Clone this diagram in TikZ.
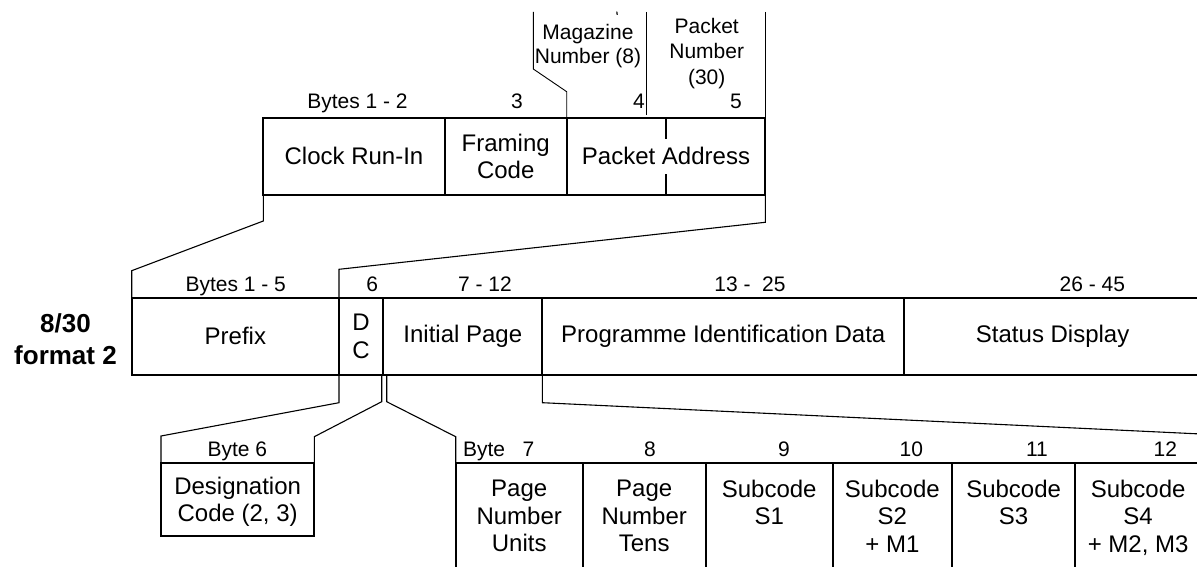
\documentclass[tikz,border=0pt]{standalone}
\usepackage{fontspec}
\setmainfont{Liberation Sans}
\usetikzlibrary{calc}
\tikzset{
  cell/.style={draw, line width=2.2pt, outer sep=0pt, inner sep=0pt, align=center, font=\fontsize{24}{27.5}\selectfont},
  lbl/.style={inner sep=0pt, outer sep=0pt, anchor=base, font=\fontsize{21}{25}\selectfont},
  mlbl/.style={inner sep=0pt, outer sep=0pt, anchor=north, align=center, font=\fontsize{21}{25}\selectfont},
  conn/.style={line width=1.1pt, line join=miter},
  sepline/.style={line width=0.9pt},
  divline/.style={line width=2.2pt},
}
\begin{document}
\begin{tikzpicture}[x=1pt,y=-1pt]
\fill[white] (0,0) rectangle (1197,567);
\useasboundingbox (0,0) rectangle (1197,567);
\clip (0,0) rectangle (1197,567);

% top row
\node[cell, minimum width=181.4pt, minimum height=77.3pt] (clock) at (354,156.35) {Clock Run-In};
\node[cell, minimum width=122pt, minimum height=77.3pt] (framing) at (505.7,156.35) {Framing\\Code};
\node[cell, minimum width=198.6pt, minimum height=77.3pt] (packet) at (666,156.35) {Packet Address};
\draw[divline] (packet.north) -- ++(0,21.3);
\draw[divline] (packet.south) -- ++(0,-21);

% top labels
\node[lbl] (l12) at (357.5,108.3) {Bytes 1 - 2};
\node[lbl] (l3) at (517,108.3) {3};
\node[lbl] (l4) at (639,108.3) {4};
\node[lbl] (l5) at (736,108.3) {5};
\node[mlbl, font=\fontsize{21}{24.3}\selectfont] (mag) at (588,24) {Magazine\\Number (8)};
\node[mlbl, font=\fontsize{21}{25.5}\selectfont] (pno) at (706.7,18) {Packet\\Number\\(30)};

\coordinate (magtop) at (533.3,12);
\coordinate (pntop) at (646.7,12);
\coordinate (pnbot) at (646.7,115);
\coordinate (pktop) at (765.3,12);
\draw[sepline] (magtop) -- ++(0,57) -- ($(packet.north west)+(0,-26)$) -- (packet.north west);
\draw[sepline] (pntop) -- (pnbot);
\draw[sepline] (pktop) -- (packet.north east);
\draw[line width=1.2pt] (616.8,11.6) -- (617.2,14.8);

% middle row
\node[inner sep=0pt, outer sep=0pt, anchor=north, align=center, font=\fontsize{26}{31.7}\selectfont\bfseries] (fmt) at (65.5,313.8) {8/30\\format 2};
\node[cell, minimum width=207.3pt, minimum height=77.3pt] (prefix) at (235.35,336.35) {Prefix};
\node[cell, minimum width=44.3pt, minimum height=77.3pt, font=\fontsize{24}{28.4}\selectfont] (dc) at (361.15,336.35) {D\\C};
\node[cell, minimum width=159pt, minimum height=77.3pt] (initial) at (462.8,336.35) {Initial Page};
\node[cell, minimum width=362pt, minimum height=77.3pt] (pid) at (723.3,336.35) {Programme Identification Data};
\node[cell, minimum width=296.7pt, minimum height=77.3pt] (status) at (1052.65,336.35) {Status Display};

\node[lbl] (m15) at (235.7,291.7) {Bytes 1 - 5};
\node[lbl] (m6) at (372.3,291.7) {6};
\node[lbl] (m712) at (485,291.7) {7 - 12};
\node[lbl] (m1325) at (750,291.7) {13 -\ \ 25};
\node[lbl] (m2645) at (1092.3,291.7) {26 - 45};

% bottom
\node[cell, minimum width=153.3pt, minimum height=73pt] (desig) at (237.65,499.5) {Designation\\\raisebox{0pt}[\height][0pt]{Code (2, 3)}};
\node[lbl] (b6l) at (237.3,456.8) {Byte 6};

\node[cell, minimum width=127pt, minimum height=105.7pt] (b7) at (519.2,516.15) {Page\\Number\\Units};
\node[cell, minimum width=123pt, minimum height=105.7pt] (b8) at (644.2,516.15) {Page\\Number\\Tens};
\node[cell, minimum width=127pt, minimum height=105.7pt] (b9) at (769.2,516.15) {Subcode\\S1\\~};
\node[cell, minimum width=119.3pt, minimum height=105.7pt] (b10) at (892.35,516.15) {Subcode\\S2\\+ M1};
\node[cell, minimum width=123.3pt, minimum height=105.7pt] (b11) at (1013.65,516.15) {Subcode\\S3\\~};
\node[cell, minimum width=125.7pt, minimum height=105.7pt] (b12) at (1138.15,516.15) {Subcode\\S4\\\raisebox{0pt}[\height][0pt]{+ M2, M3}};

\node[lbl, anchor=base west] (b7l) at (463,456.5) {Byte\ \ \ 7};
\node[lbl] (b8l) at (650,456.5) {8};
\node[lbl] (b9l) at (784,456.5) {9};
\node[lbl] (b10l) at (911.3,456.5) {10};
\node[lbl] (b11l) at (1037,456.5) {11};
\node[lbl] (b12l) at (1165.3,456.5) {12};

% connectors
\draw[conn] (clock.south west) -- ++(0,26) -- ($(prefix.north west)+(0,-27)$) -- (prefix.north west);
\draw[conn] (packet.south east) -- ++(0,27.3) -- ($(dc.north west)+(0,-28.4)$) -- (dc.north west);
\draw[conn] (dc.south west) -- ++(0,27.7) -- ($(desig.north west)+(0,-27)$) -- (desig.north west);
\draw[conn] ([xshift=-1.6pt]dc.south east) -- ++(0,26.7) -- ($(desig.north east)+(0,-26.3)$) -- (desig.north east);
\draw[conn] ([xshift=3.4pt]initial.south west) -- ++(0,26.7) -- ($(b7.north west)+(0,-26.6)$) -- (b7.north west);
\draw[conn] (pid.south west) -- ++(0,27.7) -- ($(b12.north east)+(0,-29.3)$) -- (b12.north east);
\end{tikzpicture}
\end{document}
